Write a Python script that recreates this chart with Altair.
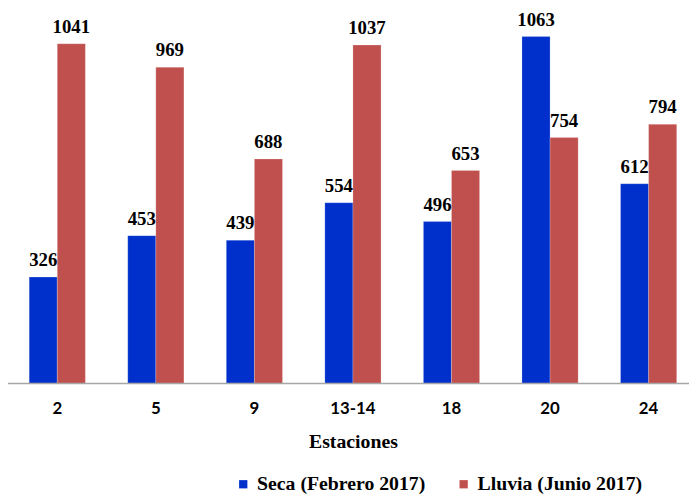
import altair as alt
import pandas as pd

estaciones = ["2", "5", "9", "13-14", "18", "20", "24"]
seca = [326, 453, 439, 554, 496, 1063, 612]
lluvia = [1041, 969, 688, 1037, 653, 754, 794]
series = ["Seca (Febrero 2017)", "Lluvia (Junio 2017)"]
colors = ["#0030CC", "#C0504D"]

rows = []
for e, s, l in zip(estaciones, seca, lluvia):
    rows.append({"Estacion": e, "Serie": series[0], "Valor": s})
    rows.append({"Estacion": e, "Serie": series[1], "Valor": l})
df = pd.DataFrame(rows)
base_df = pd.DataFrame({"a": [0], "b": [1], "v": [0]})

serif = "Liberation Serif"

x = alt.X("Estacion:N", sort=estaciones,
          scale=alt.Scale(range=[0, 698], paddingInner=0.43, paddingOuter=0.215),
          axis=alt.Axis(title="Estaciones", labelAngle=0, ticks=False, domain=False,
                        orient="bottom",
                        labelFont="Lato", labelFontWeight="bold", labelFontSize=17,
                        labelColor="#000000", labelPadding=17,
                        titleFont=serif, titleFontWeight="bold", titleFontSize=20,
                        titleColor="#000000", titlePadding=16))
y = alt.Y("Valor:Q", scale=alt.Scale(domain=[0, 1142], nice=False), axis=None)
xo = alt.XOffset("Serie:N", sort=series, scale=alt.Scale(paddingInner=0, paddingOuter=0))

bars = alt.Chart(df).mark_bar(stroke="#FFFFFF", strokeOpacity=0.35, strokeWidth=0.6).encode(
    x=x, y=y, xOffset=xo,
    color=alt.Color("Serie:N", sort=series,
                    scale=alt.Scale(domain=series, range=colors),
                    legend=alt.Legend(title=None, orient="none", legendX=228, legendY=469,
                                      direction="horizontal", symbolType="square",
                                      symbolSize=70, symbolStrokeWidth=0,
                                      labelFont=serif, labelFontWeight="bold",
                                      labelFontSize=20, labelColor="#000000",
                                      labelLimit=400,
                                      columnPadding=28, labelOffset=4)),
)

text = alt.Chart(df).mark_text(font=serif, fontWeight="bold", fontSize=19,
                               baseline="alphabetic", dy=-11, color="#000000").encode(
    x=x, y=y, xOffset=xo, text=alt.Text("Valor:Q"),
)

baseline = alt.Chart(base_df).mark_rule(color="#A6A6A6", strokeWidth=1.5).encode(
    x=alt.X("a:Q", axis=None, scale=alt.Scale(domain=[0, 1])),
    x2="b:Q",
    y=alt.Y("v:Q", axis=None),
)

inner = alt.layer(bars, text)

chart = alt.layer(inner, baseline).resolve_scale(x="independent").properties(
    width=689, height=377,
    autosize=alt.AutoSizeParams(type="none"),
    padding={"left": 0, "top": 0, "right": 0, "bottom": 109},
).configure_view(stroke=None)

chart.save("out.html", embed_options={"renderer": "svg", "actions": False})
